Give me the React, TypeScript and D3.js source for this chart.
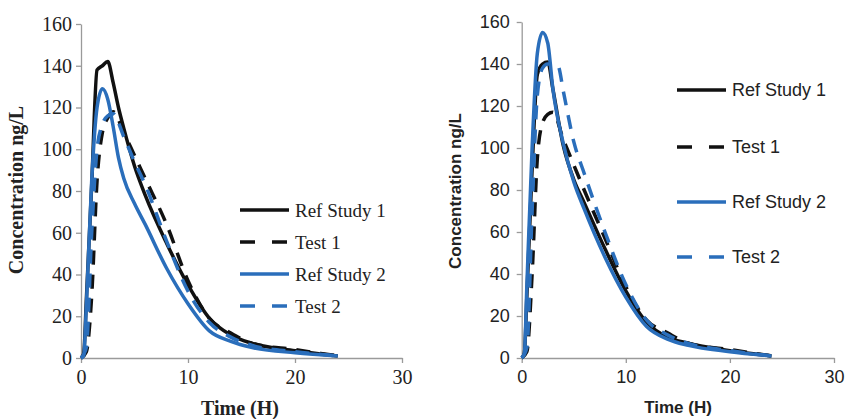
import React, { useRef, useEffect } from 'react';
import * as d3 from 'd3';

// left panel (Times style)
const leftTimeRef1 = [0, 0.25, 0.5, 1, 1.5, 2, 2.5, 3, 3.5, 4, 5, 6, 8, 10, 12, 14, 16, 20, 24];
const leftRef1 = [0, 2, 28, 83, 138, 140, 142, 132, 120, 110, 92, 78, 55, 35, 19, 11, 7, 3.5, 1];
const leftTimeTest1 = [0, 0.5, 1, 1.5, 2, 2.5, 3, 4, 5, 6, 8, 10, 12, 14, 16, 20, 24];
const leftTest1 = [0, 3, 30, 85, 108, 115, 118, 108, 97, 86, 64, 37, 19, 12, 7, 4, 1];
const leftTimeRef2 = [0, 0.25, 0.5, 1, 1.5, 2, 2.5, 3, 3.5, 4, 5, 6, 8, 10, 12, 14, 16, 20, 24];
const leftRef2 = [0, 1, 25, 85, 120, 129, 124, 111, 96, 86, 74, 64, 43, 26, 13, 8, 5, 2.5, 1];
const leftTimeTest2 = [0, 0.5, 1, 1.5, 2, 2.5, 3, 4, 5, 6, 8, 10, 12, 14, 16, 20, 24];
const leftTest2 = [0, 5, 60, 100, 112, 116, 117, 106, 94, 83, 56, 32, 17, 10, 6, 3, 1];

// right panel (sans style)
const rightTimeRef1 = [0, 0.25, 0.5, 1, 1.5, 2, 2.5, 3, 4, 5, 6, 8, 10, 12, 14, 16, 20, 24];
const rightRef1 = [0, 2, 30, 90, 135, 140, 141, 128, 101, 85, 74, 52, 32, 17, 10, 7, 3.5, 1];
const rightTimeTest1 = [0, 0.5, 1, 1.5, 2, 2.5, 3, 4, 5, 6, 8, 10, 12, 14, 16, 20, 24];
const rightTest1 = [0, 3, 40, 95, 112, 116, 117, 104, 92, 80, 57, 34, 18, 12, 7, 4, 1];
const rightTimeRef2 = [0, 0.25, 0.5, 1, 1.5, 2, 2.5, 3, 4, 5, 6, 8, 10, 12, 14, 16, 20, 24];
const rightRef2 = [0, 2, 35, 100, 145, 155, 150, 128, 102, 84, 71, 48, 29, 15, 9, 6, 3, 1];
const rightTimeTest2 = [0, 0.5, 1, 1.5, 2, 2.5, 3, 3.5, 4, 5, 6, 8, 10, 12, 14, 16, 20, 24];
const rightTest2 = [0, 5, 70, 125, 138, 140, 140, 139, 127, 103, 88, 60, 35, 18, 11, 7, 3.5, 1];

const seriesNames = ['Ref Study 1', 'Test 1', 'Ref Study 2', 'Test 2'];
const xTicks = [0, 10, 20, 30];
const yTicks = [0, 20, 40, 60, 80, 100, 120, 140, 160];

const BLACK = '#111';
const BLUE = '#2a6ebb';
const seriesStyle = [
  { color: BLACK, dash: null },
  { color: BLACK, dash: '14,10' },
  { color: BLUE, dash: null },
  { color: BLUE, dash: '14,10' },
];

const panels = [
  {
    font: '"Liberation Serif", "Times New Roman", serif',
    tickSize: 20, titleSize: 20, legendSize: 19,
    x0: 81, x1: 402, y0: 358, y1: 24,
    ytitleX: 18, ytitleY: 190, xtitleX: 240, xtitleY: 415,
    legX: 240, legTextX: 295, legY: [210, 242, 274, 306],
    tickPadY: 7, tickPadX: 4,
    series: [
      [leftTimeRef1, leftRef1], [leftTimeTest1, leftTest1],
      [leftTimeRef2, leftRef2], [leftTimeTest2, leftTest2],
    ],
  },
  {
    font: '"Liberation Sans", Arial, sans-serif',
    tickSize: 18, titleSize: 17, legendSize: 18,
    x0: 521.7, x1: 834, y0: 358, y1: 22,
    ytitleX: 457, ytitleY: 191, xtitleX: 678, xtitleY: 413,
    legX: 677, legTextX: 732, legY: [90, 147, 202, 257],
    tickPadY: 7, tickPadX: 7,
    series: [
      [rightTimeRef1, rightRef1], [rightTimeTest1, rightTest1],
      [rightTimeRef2, rightRef2], [rightTimeTest2, rightTest2],
    ],
  },
];

const Chart = () => {
  const svgRef = useRef(null);

  useEffect(() => {
    const svg = d3.select(svgRef.current);
    svg.selectAll('*').remove();

    panels.forEach(p => {
      const x = d3.scaleLinear().domain([0, 30]).range([p.x0, p.x1]);
      const y = d3.scaleLinear().domain([0, 160]).range([p.y0, p.y1]);
      const g = svg.append('g').style('font-family', p.font);

      const yAxis = g.append('g')
        .attr('transform', `translate(${p.x0},0)`)
        .call(d3.axisLeft(y).tickValues(yTicks).tickSize(5).tickSizeOuter(0).tickPadding(p.tickPadX));
      const xAxis = g.append('g')
        .attr('transform', `translate(0,${p.y0})`)
        .call(d3.axisBottom(x).tickValues(xTicks).tickSize(5).tickSizeOuter(0).tickPadding(p.tickPadY));

      [yAxis, xAxis].forEach(a => {
        a.select('.domain').attr('stroke', '#9a9a9a').attr('stroke-width', 1.3);
        a.selectAll('.tick line').attr('stroke', '#9a9a9a').attr('stroke-width', 1.3);
        a.selectAll('.tick text')
          .attr('fill', '#222')
          .style('font-family', p.font)
          .style('font-size', `${p.tickSize}px`);
      });

      g.append('text')
        .attr('transform', `translate(${p.ytitleX},${p.ytitleY}) rotate(-90)`)
        .attr('text-anchor', 'middle')
        .attr('dominant-baseline', 'middle')
        .style('font-size', `${p.titleSize}px`)
        .style('font-weight', 'bold')
        .attr('fill', '#222')
        .text('Concentration ng/L');

      g.append('text')
        .attr('x', p.xtitleX)
        .attr('y', p.xtitleY)
        .attr('text-anchor', 'middle')
        .style('font-size', `${p.titleSize}px`)
        .style('font-weight', 'bold')
        .attr('fill', '#222')
        .text('Time (H)');

      const line = d3.line()
        .x(d => x(d[0]))
        .y(d => y(d[1]))
        .curve(d3.curveMonotoneX);

      p.series.forEach(([ts, cs], i) => {
        const pts = ts.map((t, k) => [t, cs[k]]);
        g.append('path')
          .datum(pts)
          .attr('d', line)
          .attr('fill', 'none')
          .attr('stroke', seriesStyle[i].color)
          .attr('stroke-width', 3.5)
          .attr('stroke-linejoin', 'round')
          .attr('stroke-dasharray', seriesStyle[i].dash);
      });

      seriesNames.forEach((name, i) => {
        const ly = p.legY[i];
        g.append('line')
          .attr('x1', p.legX).attr('x2', p.legX + 49)
          .attr('y1', ly).attr('y2', ly)
          .attr('stroke', seriesStyle[i].color)
          .attr('stroke-width', 3.5)
          .attr('stroke-dasharray', seriesStyle[i].dash ? '15,17' : null);
        g.append('text')
          .attr('x', p.legTextX)
          .attr('y', ly)
          .attr('dominant-baseline', 'central')
          .style('font-size', `${p.legendSize}px`)
          .attr('fill', '#222')
          .text(name);
      });
    });
  }, []);

  return (
    <svg ref={svgRef} width={845} height={419}
      style={{ position: 'absolute', left: 0, top: 0, background: 'white' }} />
  );
};

export default function App() {
  return <Chart />;
}
